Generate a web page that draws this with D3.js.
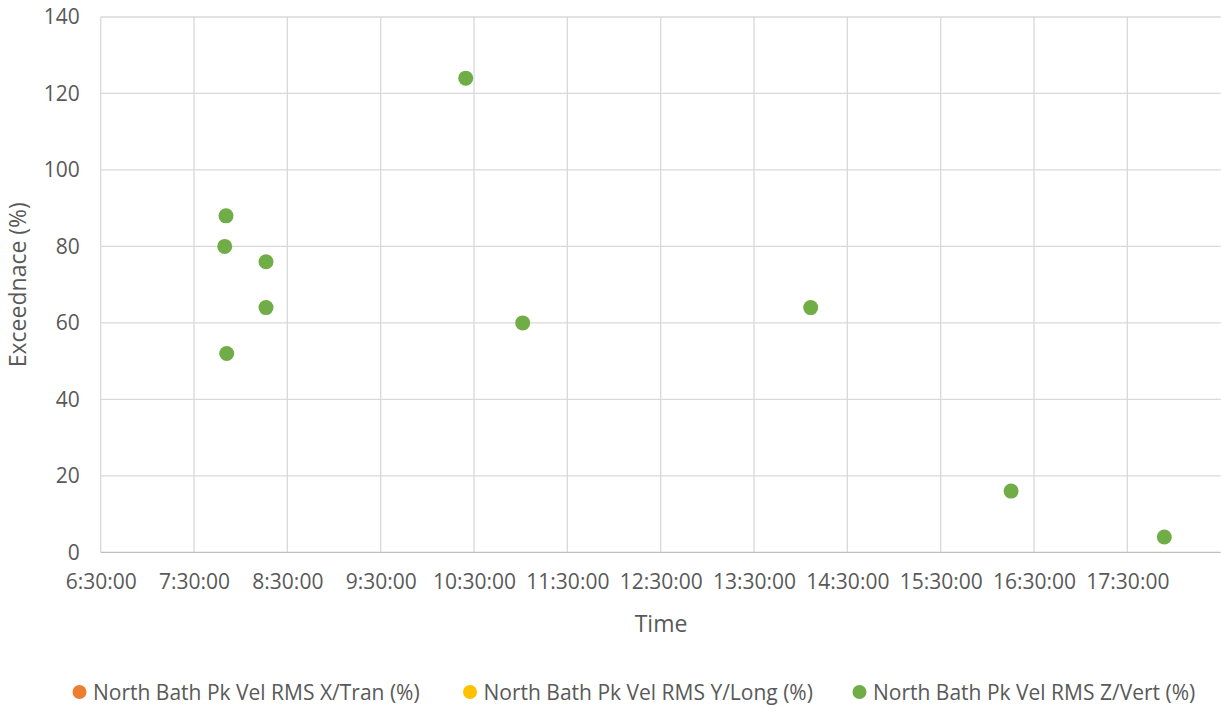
<!DOCTYPE html>
<html>
<head>
<meta charset="utf-8">
<script src="https://cdn.jsdelivr.net/npm/d3@7"></script>
<style>
  body { margin: 0; background: #fff; }
  svg { display: block; font-family: "Open Sans", "Liberation Sans", sans-serif; }
</style>
</head>
<body>
<svg id="chart" width="1221" height="711"></svg>
<script>
// ---- Data ----
const seriesNames = [
  "North Bath Pk Vel RMS X/Tran (%)",
  "North Bath Pk Vel RMS Y/Long (%)",
  "North Bath Pk Vel RMS Z/Vert (%)"
];
const seriesColors = ["#ed7d31", "#ffc000", "#70ad47"];
const xTimes = [];   // X/Tran: no visible points
const xValues = [];
const yTimes = [];   // Y/Long: no visible points
const yValues = [];
const zTimes = ["7:50:33", "7:49:43", "7:51:00", "8:16:16", "8:16:16", "10:24:40", "11:01:17", "14:06:26", "16:15:15", "17:53:45"];
const zValues = [88, 80, 52, 76, 64, 124, 60, 64, 16, 4];
const xTickLabels = ["6:30:00","7:30:00","8:30:00","9:30:00","10:30:00","11:30:00","12:30:00","13:30:00","14:30:00","15:30:00","16:30:00","17:30:00"];
const yTickValues = [0, 20, 40, 60, 80, 100, 120, 140];

// ---- Helpers ----
function parseT(s) {
  const [h, m, sec] = s.split(":").map(Number);
  return new Date(2020, 0, 1, h, m, sec);
}

const svg = d3.select("#chart");
const pLeft = 100.7, pRight = 1220.7, pTop = 17, pBottom = 552.3;

const x = d3.scaleTime()
  .domain([parseT("6:30:00"), parseT("18:30:00")])
  .range([pLeft, pRight]);
const y = d3.scaleLinear().domain([0, 140]).range([pBottom, pTop]);

const textColor = "#595959";
const gridColor = "#d9d9d9";
const fontFam = '"Open Sans", "Liberation Sans", sans-serif';

// Grid lines
const xTicks = xTickLabels.map(parseT);
svg.append("g").selectAll("line").data(xTicks).join("line")
  .attr("x1", d => x(d)).attr("x2", d => x(d))
  .attr("y1", pTop).attr("y2", pBottom)
  .attr("stroke", gridColor).attr("stroke-width", 1.3);
svg.append("g").selectAll("line").data(yTickValues).join("line")
  .attr("x1", pLeft).attr("x2", pRight)
  .attr("y1", d => y(d)).attr("y2", d => y(d))
  .attr("stroke", d => d === 0 ? "#bfbfbf" : gridColor).attr("stroke-width", 1.3);

// Y axis labels
const yAxis = d3.axisLeft(y).tickValues(yTickValues).tickSize(0).tickPadding(21);
const gy = svg.append("g").attr("transform", `translate(${pLeft},0)`).call(yAxis);
gy.select(".domain").remove();
gy.selectAll("text").attr("fill", textColor).style("font-size", "21px").style("font-family", fontFam);

// X axis labels
const xAxis = d3.axisBottom(x).tickValues(xTicks).tickSize(0).tickPadding(22)
  .tickFormat(d3.timeFormat("%-H:%M:%S"));
const gx = svg.append("g").attr("transform", `translate(0,${pBottom})`).call(xAxis);
gx.select(".domain").remove();
gx.selectAll("text").attr("fill", textColor).style("font-size", "21px").style("font-family", fontFam);

// Axis titles
svg.append("text").attr("x", 661).attr("y", 632)
  .attr("text-anchor", "middle").attr("fill", textColor).style("font-size", "23px")
  .text("Time");
svg.append("text")
  .attr("transform", `translate(26,${(pTop + pBottom) / 2}) rotate(-90)`)
  .attr("text-anchor", "middle").attr("fill", textColor).style("font-size", "23px")
  .text("Exceednace (%)");

// Points
const series = [
  { times: xTimes, values: xValues, color: seriesColors[0] },
  { times: yTimes, values: yValues, color: seriesColors[1] },
  { times: zTimes, values: zValues, color: seriesColors[2] }
];
series.forEach(s => {
  const pts = s.times.map((t, i) => ({ t: parseT(t), v: s.values[i] }));
  svg.append("g").selectAll("circle").data(pts).join("circle")
    .attr("cx", d => x(d.t)).attr("cy", d => y(d.v)).attr("r", 7.5)
    .attr("fill", s.color);
});

// Legend
const legendX = [79.5, 470, 859.5];
const lg = svg.append("g");
seriesNames.forEach((name, i) => {
  lg.append("circle").attr("cx", legendX[i]).attr("cy", 692).attr("r", 7).attr("fill", seriesColors[i]);
  lg.append("text").attr("x", legendX[i] + 13.5).attr("y", 699.5)
    .attr("fill", textColor).style("font-size", "21px").text(name);
});
</script>
</body>
</html>
